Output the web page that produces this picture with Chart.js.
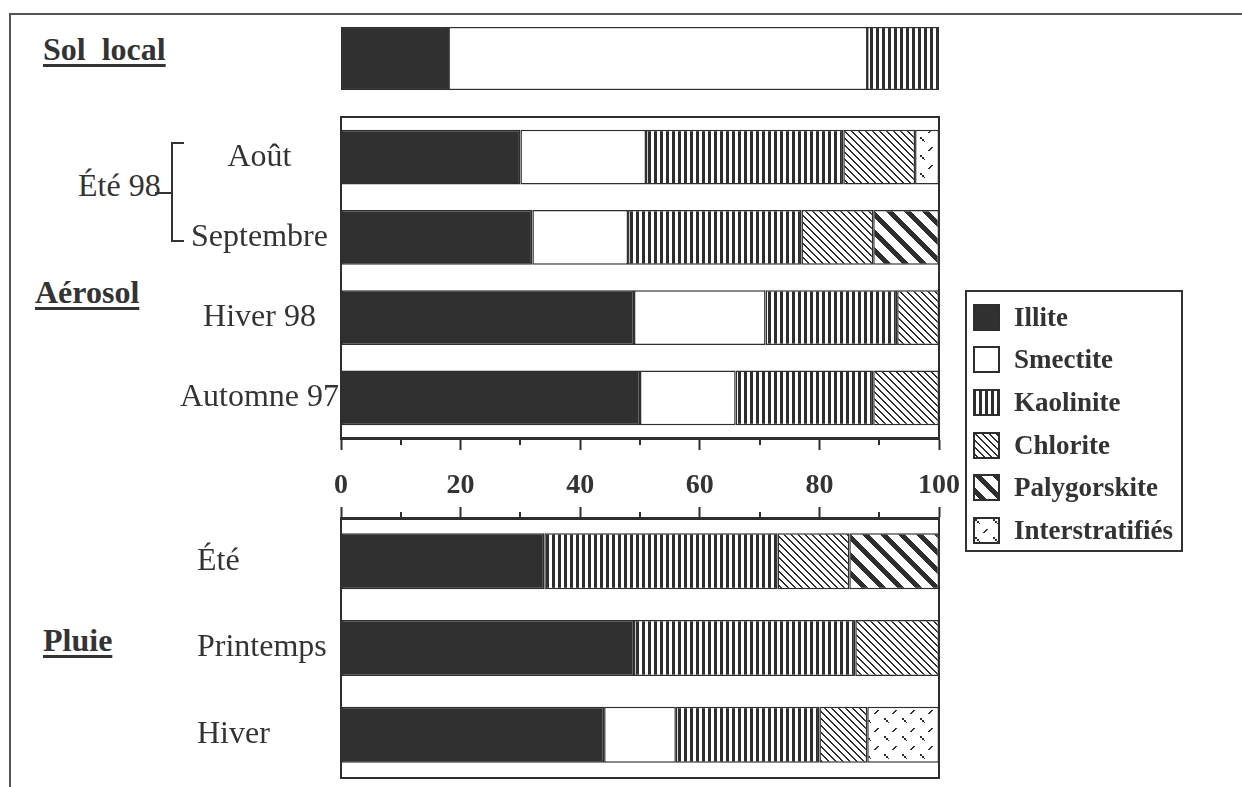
<!DOCTYPE html>
<html lang="fr">
<head>
<meta charset="utf-8">
<title>Minéraux argileux - sol, aérosol, pluie</title>
<script src="https://cdn.jsdelivr.net/npm/chart.js@4.4.1/dist/chart.umd.min.js"></script>
<style>
  html, body { margin: 0; padding: 0; background: #fff; }
  body { width: 1242px; height: 787px; position: relative; overflow: hidden;
         font-family: 'Liberation Serif', 'Times New Roman', serif; color: #333; }
  .page-frame { position: absolute; left: 9px; top: 13px; right: 0; bottom: 0;
                border-top: 2px solid #555; border-left: 2px solid #555; }
  canvas.chart { position: absolute; left: 0; }
  .group { position: absolute; font-weight: bold; font-size: 32px; line-height: 32px;
           text-decoration: underline; text-decoration-thickness: 3px; text-underline-offset: 4px;
           white-space: pre; }
  .sub { position: absolute; font-size: 32px; line-height: 32px; white-space: pre; }
  #legend { position: absolute; left: 965px; top: 290px; width: 218px; height: 262px;
            box-sizing: border-box; border: 2px solid #333; padding-top: 4px; }
  #legend .row { display: flex; align-items: center; height: 42.6px; }
  #legend canvas { margin-left: 6px; margin-right: 14px; }
  #legend span { font-weight: bold; font-size: 27px; line-height: 27px; }
</style>
</head>
<body>
<div class="page-frame"></div>

<div class="group" style="left:43px; top:33px">Sol  local</div>
<div class="group" style="left:35px; top:276px">Aérosol</div>
<div class="group" style="left:43px; top:624px">Pluie</div>
<div class="sub" style="left:78px; top:169px">Été 98</div>
<svg width="200" height="260" style="position:absolute; left:0; top:0">
  <path d="M184 143 H172 V241 H184 M155 193 H172" stroke="#333" stroke-width="2" fill="none"/>
</svg>

<canvas id="sol" class="chart" width="990" height="80" style="top:18px"></canvas>
<canvas id="aerosol" class="chart" width="990" height="411" style="top:99px"></canvas>
<canvas id="pluie" class="chart" width="990" height="296" style="top:500px"></canvas>

<div id="legend"></div>

<script>
// Minerals, in stacking order
const minerals = ['Illite', 'Smectite', 'Kaolinite', 'Chlorite', 'Palygorskite', 'Interstratifiés'];

// Row labels for each panel
const solRows = ['Sol local'];
const aerosolRows = ['Août', 'Septembre', 'Hiver 98', 'Automne 97'];
const pluieRows = ['Été', 'Printemps', 'Hiver'];

// Percentages per sample, same order as minerals
const solLocal = [18, 70, 12, 0, 0, 0];
const aout = [30, 21, 33, 12, 0, 4];
const septembre = [32, 16, 29, 12, 11, 0];
const hiver98 = [49, 22, 22, 7, 0, 0];
const automne97 = [50, 16, 23, 11, 0, 0];
const pluieEte = [34, 0, 39, 12, 15, 0];
const pluiePrintemps = [49, 0, 37, 14, 0, 0];
const pluieHiver = [44, 12, 24, 8, 0, 12];

// Axis ticks
const majorTicks = [0, 20, 40, 60, 80, 100];
const minorTicks = [10, 30, 50, 70, 90];

const ink = '#2e2e2e';
Chart.defaults.font.family = "'Liberation Serif', 'Times New Roman', serif";
Chart.defaults.color = '#333';

// small repeating tiles for the hatch fills
function tile(w, h, draw) {
    const c = document.createElement('canvas');
    c.width = w; c.height = h;
    const g = c.getContext('2d');
    g.fillStyle = '#fff';
    g.fillRect(0, 0, w, h);
    g.fillStyle = ink;
    draw(g, w, h);
    return g.createPattern(c, 'repeat');
}

const fills = [
    '#303030',
    '#ffffff',
    tile(6, 1, g => g.fillRect(0, 0, 3, 1)),
    tile(7, 7, (g, w) => {
        for (let i = 0; i < w; i++) { g.fillRect(i, i, 1, 1); g.fillRect((i + 1) % w, i, 1, 1); }
    }),
    tile(18, 18, (g, w) => {
        for (let i = 0; i < w; i++) for (let k = 0; k < 7; k++) g.fillRect((i + k) % w, i, 1, 1);
    }),
    tile(18, 18, g => {
        // short "\" dash and short "/" dash
        g.fillRect(2, 2, 2, 2); g.fillRect(4, 4, 2, 2); g.fillRect(6, 6, 1, 1);
        g.fillRect(10, 15, 2, 1); g.fillRect(11, 14, 2, 1); g.fillRect(12, 13, 2, 1); g.fillRect(13, 12, 2, 1);
    })
];

// frame round the plot area + short minor ticks
const framePlugin = {
    id: 'frame',
    afterDatasetsDraw(chart, args, opts) {
        if (!opts.show) return;
        const { ctx, chartArea: a } = chart;
        ctx.save();
        ctx.strokeStyle = ink;
        ctx.lineWidth = 2;
        ctx.strokeRect(a.left, a.top, a.right - a.left, a.bottom - a.top);
        if (opts.minor) {
            const xs = chart.scales.x;
            ctx.beginPath();
            minorTicks.forEach(v => {
                const px = Math.round(xs.getPixelForValue(v));
                if (opts.minor === 'down') { ctx.moveTo(px, a.bottom); ctx.lineTo(px, a.bottom + 7); }
                else { ctx.moveTo(px, a.top); ctx.lineTo(px, a.top - 6); }
            });
            ctx.stroke();
        }
        ctx.restore();
    }
};

function buildChart(id, rows, samples, cfg) {
    const datasets = minerals.map((name, i) => ({
        label: name,
        data: samples.map(s => s[i] || null),
        backgroundColor: fills[i],
        borderColor: ink,
        borderWidth: 1.5,
        borderSkipped: false,
        categoryPercentage: 1,
        barPercentage: cfg.barPct
    }));
    return new Chart(document.getElementById(id), {
        type: 'bar',
        data: { labels: rows, datasets },
        plugins: [framePlugin],
        options: {
            indexAxis: 'y',
            responsive: false,
            animation: false,
            events: [],
            layout: { padding: cfg.padding },
            plugins: {
                legend: { display: false },
                tooltip: { enabled: false },
                frame: { show: cfg.frame, minor: cfg.minor }
            },
            scales: {
                x: Object.assign({
                    stacked: true,
                    min: majorTicks[0],
                    max: majorTicks[majorTicks.length - 1],
                    ticks: { stepSize: 20 },
                    grid: { drawOnChartArea: false }
                }, cfg.x),
                y: Object.assign({ stacked: true }, cfg.y)
            }
        }
    });
}

const rowLabelFont = { size: 32, lineHeight: 1 };

// Sol local: bar alone
buildChart('sol', solRows, [solLocal], {
    barPct: 1,
    padding: { left: 341, right: 51, top: 9, bottom: 8 },
    frame: false,
    x: { display: false },
    y: { display: false }
});

// Aérosol: axis with labels underneath
buildChart('aerosol', aerosolRows, [aout, septembre, hiver98, automne97], {
    barPct: 0.685,
    padding: { left: 100, right: 51, top: 18, bottom: 12 },
    frame: true,
    minor: 'down',
    x: {
        position: 'bottom',
        border: { display: true, color: ink, width: 3 },
        grid: { drawOnChartArea: false, tickLength: 12, tickWidth: 2, tickColor: ink },
        ticks: { stepSize: 20, padding: 19, color: '#333', font: { size: 28, weight: 'bold' } },
        afterFit: s => { s.height = 60; }
    },
    y: {
        position: 'left',
        border: { display: false },
        grid: { display: false, drawTicks: false },
        ticks: { crossAlign: 'center', padding: 2, color: '#333', font: rowLabelFont },
        afterFit: s => { s.width = 241; }
    }
});

// Pluie: ticks on top, no numbers
buildChart('pluie', pluieRows, [pluieEte, pluiePrintemps, pluieHiver], {
    barPct: 0.646,
    padding: { left: 197, right: 51, top: 0, bottom: 18 },
    frame: true,
    minor: 'up',
    x: {
        position: 'top',
        border: { display: true, color: ink, width: 3 },
        grid: { drawOnChartArea: false, tickLength: 11, tickWidth: 2, tickColor: ink },
        ticks: { display: false, stepSize: 20 },
        afterFit: s => { s.height = 18; }
    },
    y: {
        position: 'left',
        border: { display: false },
        grid: { display: false, drawTicks: false },
        ticks: { crossAlign: 'far', padding: 2, color: '#333', font: rowLabelFont },
        afterFit: s => { s.width = 144; }
    }
});

// legend box with the same fills
const legend = document.getElementById('legend');
minerals.forEach((name, i) => {
    const row = document.createElement('div');
    row.className = 'row';
    const sw = document.createElement('canvas');
    sw.width = 27; sw.height = 27;
    const g = sw.getContext('2d');
    g.fillStyle = fills[i];
    g.fillRect(0, 0, 27, 27);
    g.strokeStyle = ink;
    g.lineWidth = 2;
    g.strokeRect(1, 1, 25, 25);
    const label = document.createElement('span');
    label.textContent = name;
    row.appendChild(sw);
    row.appendChild(label);
    legend.appendChild(row);
});
</script>
</body>
</html>
